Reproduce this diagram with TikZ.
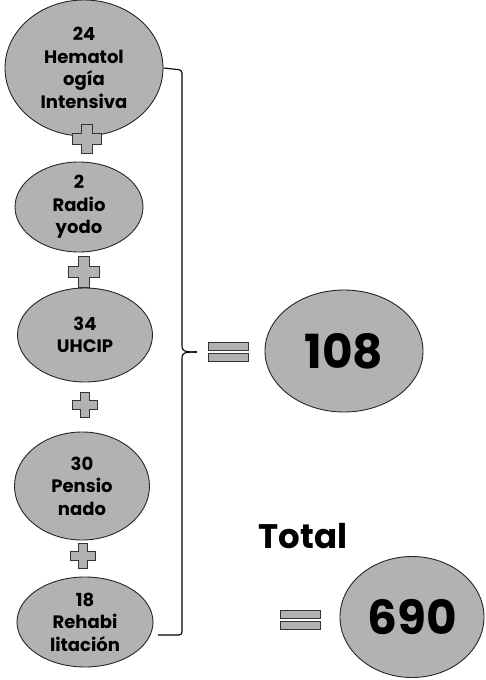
\documentclass[tikz,border=0pt]{standalone}
\usepackage{fontspec}
\setmainfont{Poppins}
\usetikzlibrary{shapes.geometric}
\begin{document}
\begin{tikzpicture}[x=1pt,y=-1pt,
  blob/.style={draw=black!85, line width=0.9pt, ellipse, fill=gray!60, inner sep=0pt, align=center, font=\bfseries\fontsize{18}{22.5}\selectfont},
  bigtext/.style={font=\bfseries\fontsize{47}{47}\selectfont},
  pluspart/.style={draw=black!80, line width=0.8pt, fill=gray!60},
  bracket/.style={draw=black, line width=1.1pt, rounded corners=3pt},
  plussign/.pic={\filldraw[pluspart] (-5,-14) -- (5,-14) -- (5,-5) -- (14,-5) -- (14,5) -- (5,5) -- (5,14) -- (-5,14) -- (-5,5) -- (-14,5) -- (-14,-5) -- (-5,-5) -- cycle;},
  equalsign/.pic={\filldraw[pluspart] (-20,-9) rectangle (20,-1); \filldraw[pluspart] (-20,2) rectangle (20,10);}]
\useasboundingbox (0,0) rectangle (485,680);
% column of units
\node[blob, minimum width=158pt, minimum height=136pt] (hema) at (84,68) {24\\Hematol\\ogía\\Intensiva};
\node[blob, minimum width=128pt, minimum height=90pt] (radio) at (79,207) {2\\Radio\\yodo};
\node[blob, minimum width=135pt, minimum height=94pt] (uhcip) at (85,335) {34\\UHCIP};
\node[blob, minimum width=135pt, minimum height=108pt] (pens) at (82,486) {30\\Pensio\\nado};
\node[blob, minimum width=136pt, minimum height=90pt] (reha) at (85,622) {18\\Rehabi\\litación};
\pic[scale=1.05] at (87,139) {plussign};
\pic[scale=1.1] at (84,272) {plussign};
\pic[scale=0.9] at (85,405) {plussign};
\pic[scale=0.9] at (83,556) {plussign};
% bracket
\coordinate (tip) at (197,352);
\draw[bracket] (hema.east) -- (182,70) -- (182,343) .. controls (182,351) and (184,352) .. (tip);
\draw[bracket] (tip) .. controls (184,352) and (182,353) .. (182,361) -- (182,635) -- (158,635);
% results
\pic at (228,351) {equalsign};
\node[blob, minimum width=158pt, minimum height=122pt] (sub) at (344,351) {};
\node[bigtext] at (sub) {108};
\node[font=\bfseries\fontsize{34}{34}\selectfont] (total) at (303,536) {Total};
\pic at (300,619) {equalsign};
\node[blob, minimum width=144pt, minimum height=121pt] (sum) at (412,617) {};
\node[bigtext] at (sum) {690};
\end{tikzpicture}
\end{document}
